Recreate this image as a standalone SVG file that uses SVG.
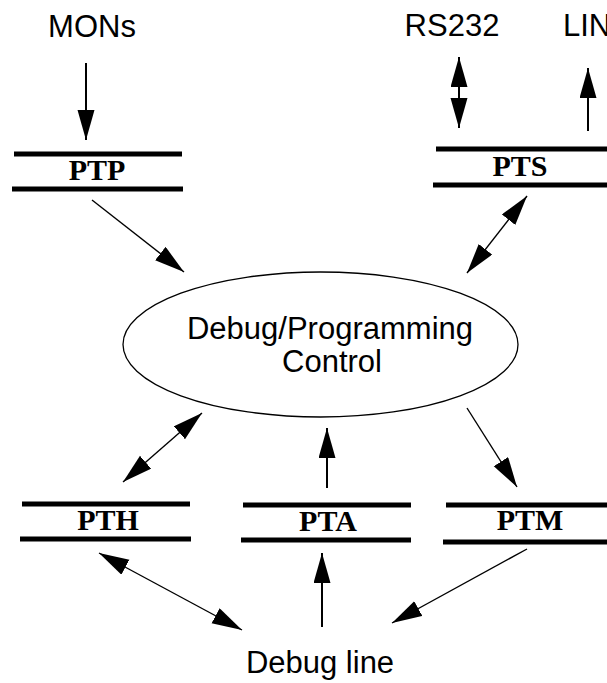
<svg xmlns="http://www.w3.org/2000/svg" width="607" height="683" viewBox="0 0 607 683">
  <style>
    .sans { font-family: "Liberation Sans", Arial, sans-serif; font-size: 31px; fill: #000; }
    .port { font-family: "Liberation Serif", "Times New Roman", serif; font-size: 30px; font-weight: bold; fill: #000; text-anchor: middle; }
    .bar { stroke: #000; stroke-width: 5; }
    .link { stroke: #000; stroke-width: 1.4; fill: none; marker-end: url(#head); }
    .both { marker-start: url(#head); }
    .thick { stroke-width: 2; }
  </style>
  <defs>
    <marker id="head" markerUnits="userSpaceOnUse" markerWidth="30" markerHeight="18" refX="30" refY="8.5" orient="auto-start-reverse">
      <path d="M0,0 L30,8.5 L0,17 Z" fill="#000"/>
    </marker>
  </defs>

  <rect width="607" height="683" fill="#fff"/>

  <!-- external endpoints -->
  <g id="mons"><text class="sans" x="92" y="37" text-anchor="middle">MONs</text></g>
  <g id="rs232"><text class="sans" x="452" y="36" text-anchor="middle">RS232</text></g>
  <g id="lin"><text class="sans" x="563" y="36">LIN</text></g>
  <g id="debug-line"><text class="sans" x="320" y="673" text-anchor="middle">Debug line</text></g>

  <!-- central controller -->
  <g id="control">
    <ellipse cx="320.5" cy="344.5" rx="197.5" ry="72.5" fill="#fff" stroke="#000" stroke-width="1.3"/>
    <text class="sans" x="330" y="339" text-anchor="middle">Debug/Programming</text>
    <text class="sans" x="332" y="372" text-anchor="middle">Control</text>
  </g>

  <!-- ports -->
  <g id="ptp">
    <line class="bar" x1="14" y1="154" x2="182" y2="154"/>
    <line class="bar" x1="12" y1="189" x2="183" y2="189"/>
    <text class="port" x="97" y="180">PTP</text>
  </g>
  <g id="pts">
    <line class="bar" x1="436" y1="149" x2="607" y2="149"/>
    <line class="bar" x1="433" y1="185" x2="607" y2="185"/>
    <text class="port" x="520" y="176">PTS</text>
  </g>
  <g id="pth">
    <line class="bar" x1="22" y1="504" x2="190" y2="504"/>
    <line class="bar" x1="20" y1="539" x2="191" y2="539"/>
    <text class="port" x="108" y="530">PTH</text>
  </g>
  <g id="pta">
    <line class="bar" x1="243" y1="505" x2="411" y2="505"/>
    <line class="bar" x1="241" y1="540" x2="411" y2="540"/>
    <text class="port" x="328" y="531">PTA</text>
  </g>
  <g id="ptm">
    <line class="bar" x1="446" y1="505" x2="607" y2="505"/>
    <line class="bar" x1="443" y1="542" x2="607" y2="542"/>
    <text class="port" x="530" y="530">PTM</text>
  </g>

  <!-- connectors -->
  <g id="connectors">
    <line class="link thick" x1="86" y1="63" x2="86" y2="140"/>
    <line class="link thick both" x1="459" y1="57" x2="459" y2="128"/>
    <line class="link thick" x1="588" y1="131" x2="588" y2="68"/>
    <line class="link" x1="92" y1="200" x2="184" y2="272"/>
    <line class="link both" x1="527" y1="196" x2="467" y2="273"/>
    <line class="link both" x1="202" y1="413" x2="123" y2="482"/>
    <line class="link thick" x1="327" y1="488" x2="327" y2="428"/>
    <line class="link" x1="467" y1="408" x2="517" y2="487"/>
    <line class="link both" x1="99" y1="553" x2="242" y2="630"/>
    <line class="link thick" x1="322" y1="627" x2="322" y2="553"/>
    <line class="link" x1="527" y1="549" x2="392" y2="623"/>
  </g>
</svg>
